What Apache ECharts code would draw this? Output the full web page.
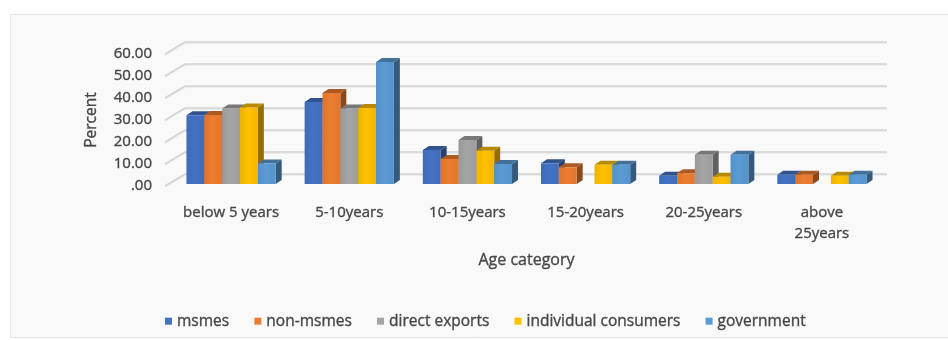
<!DOCTYPE html>
<html>
<head>
<meta charset="utf-8">
<script src="https://cdn.jsdelivr.net/npm/echarts@6/dist/echarts.min.js"></script>
<style>
  html, body { margin: 0; padding: 0; background: #ffffff; }
  #chart { width: 948px; height: 340px; }
</style>
</head>
<body>
<div id="chart"></div>
<script>
// Age categories on the x axis
const categories = ['below 5 years', '5-10years', '10-15years', '15-20years', '20-25years', 'above\n25years'];

// Percent shares per customer type
const msmes = [31.2, 37.3, 15.5, 9.4, 3.8, 4.2];
const nonMsmes = [31.4, 41.4, 11.4, 7.6, 4.9, 4.2];
const directExports = [34.3, 34.3, 20.0, 0, 13.3, 0];
const individualConsumers = [34.8, 34.6, 15.1, 8.8, 3.3, 3.8];
const government = [9.3, 55.5, 9.1, 8.8, 13.3, 4.2];

const seriesNames = ['msmes', 'non-msmes', 'direct exports', 'individual consumers', 'government'];
const seriesValues = [msmes, nonMsmes, directExports, individualConsumers, government];
const seriesColors = ['#4472C4', '#ED7D31', '#A5A5A5', '#FFC000', '#5B9BD5'];

// Value axis ticks
const yTicks = [0, 10, 20, 30, 40, 50, 60];

const FONT = '"Open Sans", "DejaVu Sans", sans-serif';
const TEXT = '#474747';
// slight outline so the small labels read a little heavier
const HEAVY = { textBorderColor: TEXT, textBorderWidth: 0.35 };

// 3D look: depth of each column and of the chart walls
const BAR_DX = 6, BAR_DY = 4, BAR_LIFT = 2;
const WALL_DX = 13, WALL_DY = 12, WALL_FRONT = 7, WALL_RIGHT = 6;
const GROUP_FRAC = 0.755;

function shade(hex, f) {
  const n = parseInt(hex.slice(1), 16);
  const r = Math.round(((n >> 16) & 255) * f);
  const g = Math.round(((n >> 8) & 255) * f);
  const b = Math.round((n & 255) * f);
  return 'rgb(' + r + ',' + g + ',' + b + ')';
}

function barRenderer(si, color) {
  const topColor = shade(color, 0.72);
  const sideColor = shade(color, 0.58);
  return function (params, api) {
    const cat = api.value(0);
    const v = api.value(1);
    if (!v) return { type: 'group', children: [] };
    const base = api.coord([cat, 0]);
    const top = api.coord([cat, v]);
    const band = api.size([1, 0])[0];
    const groupW = band * GROUP_FRAC;
    const bw = groupW / seriesNames.length;
    const x0 = base[0] - groupW / 2 + si * bw;
    const x1 = x0 + bw;
    const yb = base[1] - BAR_LIFT;
    const yt = top[1] - BAR_LIFT;
    return {
      type: 'group',
      children: [
        { type: 'polygon', shape: { points: [[x1, yb], [x1 + BAR_DX, yb - BAR_DY], [x1 + BAR_DX, yt - BAR_DY], [x1, yt]] },
          style: { fill: sideColor } },
        { type: 'polygon', shape: { points: [[x0, yt], [x1, yt], [x1 + BAR_DX, yt - BAR_DY], [x0 + BAR_DX, yt - BAR_DY]] },
          style: { fill: topColor } },
        { type: 'rect', shape: { x: x0, y: yt, width: bw, height: yb - yt },
          style: { fill: new echarts.graphic.LinearGradient(0, 0, 1, 0, [
            { offset: 0, color: shade(color, 0.93) },
            { offset: 0.45, color: color },
            { offset: 1, color: shade(color, 0.95) }
          ]) } }
      ]
    };
  };
}

// Gridlines drawn along the side and back walls
function wallRenderer(params, api) {
  const cs = params.coordSys;
  const y = api.coord([0, api.value(1)])[1];
  const xl = cs.x - WALL_FRONT;
  const xb = cs.x + WALL_DX;
  const xr = cs.x + cs.width + WALL_RIGHT;
  return {
    type: 'group',
    children: [
      { type: 'polyline', shape: { points: [[xl, y + 1], [xb, y - WALL_DY + 1], [xr, y - WALL_DY + 1]] },
        style: { stroke: '#ececec', lineWidth: 2, fill: null } },
      { type: 'polyline', shape: { points: [[xl, y], [xb, y - WALL_DY], [xr, y - WALL_DY]] },
        style: { stroke: '#d4d4d4', lineWidth: 1.5, fill: null } }
    ]
  };
}

const series = [{
  type: 'custom',
  name: 'walls',
  silent: true,
  z: 1,
  renderItem: wallRenderer,
  data: yTicks.map(t => [0, t]),
  legendHoverLink: false
}];
seriesNames.forEach((name, si) => {
  series.push({
    type: 'custom',
    name: name,
    z: 2,
    itemStyle: { color: seriesColors[si] },
    renderItem: barRenderer(si, seriesColors[si]),
    data: seriesValues[si].map((v, i) => [i, v])
  });
});

const chart = echarts.init(document.getElementById('chart'), null, { renderer: 'canvas' });
chart.setOption({
  animation: false,
  backgroundColor: '#ffffff',
  graphic: [{
    type: 'rect',
    z: -10,
    shape: { x: 10.5, y: 14.5, width: 945, height: 323 },
    style: { fill: '#f9f9f9', stroke: '#e4e4e4', lineWidth: 1 }
  }],
  grid: { left: 172, right: 67, top: 54, bottom: 154 },
  legend: {
    data: seriesNames,
    left: 160,
    top: 308,
    icon: 'rect',
    itemWidth: 7,
    itemHeight: 7,
    itemGap: 25,
    textStyle: Object.assign({ fontFamily: FONT, fontSize: 15.5, color: TEXT }, HEAVY)
  },
  xAxis: {
    type: 'category',
    data: categories,
    name: 'Age category',
    nameLocation: 'middle',
    nameGap: 66,
    nameTextStyle: Object.assign({ fontFamily: FONT, fontSize: 16, color: TEXT }, HEAVY),
    axisLine: { show: false },
    axisTick: { show: false },
    axisLabel: Object.assign({ fontFamily: FONT, fontSize: 15, color: TEXT, margin: 16, lineHeight: 21, interval: 0 }, HEAVY)
  },
  yAxis: {
    type: 'value',
    min: 0,
    max: 60,
    interval: 10,
    name: 'Percent',
    nameLocation: 'middle',
    nameGap: 72,
    nameTextStyle: Object.assign({ fontFamily: FONT, fontSize: 15.5, color: TEXT }, HEAVY),
    axisLine: { show: false },
    axisTick: { show: false },
    splitLine: { show: false },
    axisLabel: Object.assign({
      fontFamily: FONT, fontSize: 15, color: TEXT, margin: 20,
      formatter: v => (v === 0 ? '.00' : v.toFixed(2))
    }, HEAVY)
  },
  series: series
});
</script>
</body>
</html>
